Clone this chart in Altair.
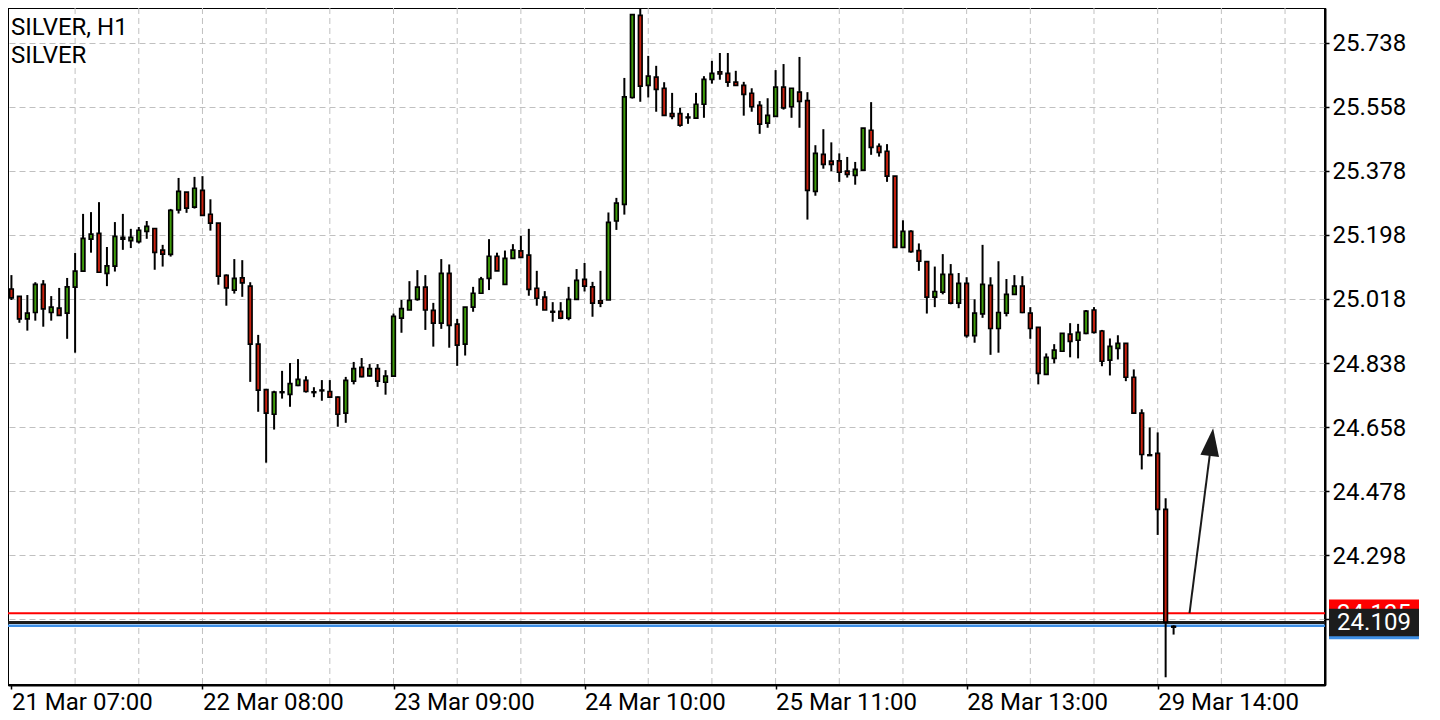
import altair as alt
import pandas as pd

# ---------------- data ----------------
candle_idx = list(range(147))
high = [25.085, 25.025, 25.029, 25.065, 25.071, 25.026, 25.049, 25.077, 25.147, 25.257,
        25.262, 25.290, 25.164, 25.234, 25.257, 25.215, 25.220, 25.237, 25.216, 25.170,
        25.271, 25.358, 25.318, 25.361, 25.363, 25.298, 25.231, 25.087, 25.130, 25.127,
        25.065, 24.917, 24.763, 24.760, 24.816, 24.838, 24.849, 24.801, 24.770, 24.790,
        24.790, 24.744, 24.799, 24.841, 24.852, 24.835, 24.835, 24.818, 24.977, 25.015,
        25.068, 25.099, 25.085, 25.007, 25.130, 25.115, 24.962, 24.995, 25.052, 25.080,
        25.186, 25.148, 25.154, 25.172, 25.195, 25.215, 25.097, 25.040, 25.009, 25.009,
        25.052, 25.102, 25.119, 25.066, 25.097, 25.261, 25.302, 25.639, 25.817, 25.833,
        25.701, 25.673, 25.627, 25.597, 25.555, 25.540, 25.597, 25.644, 25.687, 25.709,
        25.709, 25.659, 25.628, 25.610, 25.574, 25.582, 25.661, 25.678, 25.610, 25.698,
        25.599, 25.450, 25.495, 25.458, 25.427, 25.417, 25.403, 25.498, 25.571, 25.455,
        25.453, 25.363, 25.239, 25.211, 25.174, 25.123, 25.109, 25.144, 25.116, 25.091,
        25.079, 25.017, 25.170, 25.079, 25.124, 25.074, 25.085, 25.082, 24.995, 24.938,
        24.865, 24.891, 24.921, 24.950, 24.948, 24.987, 24.995, 24.931, 24.907, 24.916,
        24.893, 24.820, 24.708, 24.657, 24.643, 24.458, 24.101]
open_ = [25.046, 25.025, 24.962, 24.980, 25.059, 24.980, 24.992, 24.978, 25.051, 25.096,
         25.186, 25.202, 25.090, 25.110, 25.186, 25.182, 25.179, 25.208, 25.216, 25.155,
         25.143, 25.268, 25.318, 25.276, 25.323, 25.256, 25.231, 25.084, 25.043, 25.077,
         25.054, 24.891, 24.763, 24.694, 24.757, 24.750, 24.775, 24.789, 24.757, 24.762,
         24.758, 24.742, 24.697, 24.787, 24.826, 24.802, 24.822, 24.784, 24.801, 24.964,
         24.987, 25.017, 25.051, 24.986, 24.950, 25.090, 24.947, 24.891, 24.995, 25.034,
         25.076, 25.138, 25.059, 25.132, 25.153, 25.141, 25.048, 25.023, 24.983, 24.983,
         24.964, 25.017, 25.073, 25.052, 25.013, 25.015, 25.237, 25.284, 25.584, 25.815,
         25.618, 25.641, 25.610, 25.539, 25.539, 25.529, 25.526, 25.565, 25.635, 25.656,
         25.652, 25.627, 25.618, 25.596, 25.562, 25.512, 25.531, 25.613, 25.558, 25.599,
         25.575, 25.320, 25.424, 25.405, 25.406, 25.377, 25.365, 25.380, 25.492, 25.447,
         25.433, 25.363, 25.163, 25.208, 25.154, 25.123, 25.023, 25.037, 25.087, 25.006,
         25.062, 24.915, 24.976, 25.056, 24.935, 24.978, 25.031, 25.054, 24.978, 24.938,
         24.806, 24.851, 24.871, 24.919, 24.902, 24.921, 24.987, 24.928, 24.846, 24.879,
         24.893, 24.798, 24.697, 24.580, 24.584, 24.427, 24.098]
close = [25.021, 24.962, 24.978, 25.059, 24.990, 24.995, 24.972, 25.052, 25.096, 25.188,
         25.200, 25.093, 25.111, 25.194, 25.191, 25.191, 25.211, 25.222, 25.149, 25.144,
         25.267, 25.320, 25.273, 25.329, 25.253, 25.231, 25.082, 25.049, 25.076, 25.063,
         24.891, 24.762, 24.697, 24.756, 24.755, 24.780, 24.792, 24.758, 24.755, 24.760,
         24.742, 24.694, 24.789, 24.822, 24.800, 24.822, 24.787, 24.801, 24.969, 24.991,
         25.014, 25.051, 24.987, 24.950, 25.090, 24.944, 24.888, 24.995, 25.034, 25.074,
         25.138, 25.097, 25.132, 25.155, 25.135, 25.045, 25.020, 24.987, 24.981, 24.964,
         25.017, 25.070, 25.054, 25.006, 25.006, 25.233, 25.287, 25.586, 25.817, 25.616,
         25.644, 25.607, 25.534, 25.531, 25.506, 25.527, 25.565, 25.635, 25.652, 25.650,
         25.627, 25.618, 25.593, 25.558, 25.509, 25.534, 25.613, 25.555, 25.610, 25.573,
         25.323, 25.427, 25.396, 25.396, 25.374, 25.368, 25.382, 25.498, 25.444, 25.430,
         25.363, 25.163, 25.208, 25.151, 25.124, 25.023, 25.039, 25.087, 25.006, 25.062,
         24.915, 24.978, 25.059, 24.935, 24.980, 25.031, 25.054, 24.980, 24.935, 24.809,
         24.854, 24.874, 24.921, 24.899, 24.924, 24.984, 24.924, 24.843, 24.885, 24.893,
         24.798, 24.697, 24.581, 24.578, 24.427, 24.110, 24.096]
low = [25.015, 24.951, 24.929, 24.957, 24.940, 24.957, 24.972, 24.906, 24.867, 25.096,
       25.148, 25.093, 25.054, 25.095, 25.156, 25.161, 25.174, 25.187, 25.100, 25.109,
       25.137, 25.258, 25.260, 25.272, 25.253, 25.210, 25.058, 24.999, 25.033, 25.024,
       24.785, 24.701, 24.558, 24.651, 24.738, 24.715, 24.773, 24.755, 24.742, 24.732,
       24.742, 24.659, 24.670, 24.778, 24.798, 24.800, 24.771, 24.749, 24.801, 24.923,
       24.987, 25.013, 24.931, 24.884, 24.934, 24.881, 24.830, 24.859, 24.982, 25.034,
       25.043, 25.097, 25.059, 25.132, 25.135, 25.027, 24.999, 24.987, 24.954, 24.961,
       24.958, 25.017, 25.039, 24.968, 24.995, 25.015, 25.212, 25.255, 25.581, 25.572,
       25.584, 25.544, 25.534, 25.523, 25.502, 25.510, 25.526, 25.527, 25.623, 25.634,
       25.614, 25.618, 25.533, 25.544, 25.482, 25.499, 25.531, 25.550, 25.527, 25.499,
       25.241, 25.308, 25.384, 25.377, 25.347, 25.359, 25.339, 25.380, 25.423, 25.418,
       25.347, 25.163, 25.163, 25.148, 25.097, 24.977, 24.995, 25.031, 25.003, 24.992,
       24.909, 24.895, 24.965, 24.861, 24.867, 24.969, 25.031, 24.978, 24.906, 24.778,
       24.806, 24.837, 24.871, 24.854, 24.851, 24.919, 24.921, 24.829, 24.803, 24.848,
       24.787, 24.697, 24.539, 24.578, 24.355, 23.955, 24.075]

x_tick_idx = [0, 24, 48, 72, 96, 120, 144]
x_tick_labels = ["21 Mar 07:00", "22 Mar 08:00", "23 Mar 09:00", "24 Mar 10:00",
                 "25 Mar 11:00", "28 Mar 13:00", "29 Mar 14:00"]
grid_idx = list(range(8, 161, 8))
y_ticks = [25.738, 25.558, 25.378, 25.198, 25.018, 24.838, 24.658, 24.478, 24.298, 24.118]

line_prices = [24.135, 24.100, 24.109]
line_labels = ["24.135", "", "24.109"]
line_colors = ["#ff0000", "#3d8fe6", "#1c1c1c"]
line_widths = [2, 2.5, 3]

arrow_idx = [148.0, 150.75]
arrow_price = [24.135, 24.616]
arrow_head_idx = [150.75]
arrow_head_price = [24.616]

title_lines = ["SILVER, H1", "SILVER"]

UP = "#3e9b09"
DOWN = "#c8200e"
GRID = "#c0c0c0"
FONT = "Roboto"

# ---------------- frames ----------------
df = pd.DataFrame({"i": candle_idx, "open": open_, "high": high, "low": low, "close": close})
df["dir"] = ["up" if c >= o else "down" for o, c in zip(open_, close)]
grid_df = pd.DataFrame({"i": grid_idx})
lines_df = pd.DataFrame({"price": line_prices, "label": line_labels,
                         "color": line_colors, "w": line_widths})
back_tags = lines_df.iloc[:2]
front_tags = lines_df.iloc[2:]
arrow_df = pd.DataFrame({"i": arrow_idx, "price": arrow_price})
head_df = pd.DataFrame({"i": arrow_head_idx, "price": arrow_head_price})

x_scale = alt.Scale(domain=[-0.43, 165.02], nice=False, zero=False, padding=0)
y_scale = alt.Scale(domain=[23.9333, 25.8355], nice=False, zero=False, padding=0)

label_js = "[" + ",".join("'%s'" % s for s in x_tick_labels) + "]"

x_axis = alt.Axis(values=x_tick_idx, labelExpr=label_js + "[round(datum.value/24)]",
                  title=None, grid=False, labelAlign="left", labelBaseline="top",
                  labelPadding=1, tickSize=4, tickWidth=1.5, domainWidth=2,
                  labelFlush=False, labelOverlap=False, labelBound=False)
y_axis = alt.Axis(values=y_ticks, format=".3f", orient="right", title=None,
                  grid=True, gridColor=GRID, gridDash=[6, 4], gridWidth=1,
                  tickSize=4, tickWidth=1.5, labelPadding=3, domainWidth=2,
                  labelOverlap=False, labelOffset=1)


def X(field):
    return alt.X(field, scale=x_scale, axis=x_axis)


def Y(field):
    return alt.Y(field, scale=y_scale, axis=y_axis)


vgrid = alt.Chart(grid_df).mark_rule(color=GRID, strokeDash=[6, 4], strokeWidth=1).encode(
    x=X("i:Q"))

plines = alt.Chart(lines_df).mark_rule().encode(
    y=Y("price:Q"),
    color=alt.Color("color:N", scale=None),
    strokeWidth=alt.StrokeWidth("w:Q", scale=None))

wicks = alt.Chart(df).mark_rule(color="black", strokeWidth=2).encode(
    x=X("i:Q"), y=Y("low:Q"), y2="high:Q")

bodies = alt.Chart(df).mark_bar(size=3.6, stroke="black", strokeWidth=1.7).encode(
    x=X("i:Q"), y=Y("open:Q"), y2="close:Q",
    color=alt.Color("dir:N", scale=alt.Scale(domain=["up", "down"], range=[UP, DOWN]),
                    legend=None))

arrow_line = alt.Chart(arrow_df).mark_line(color="#1a1a1a", strokeWidth=2).encode(
    x=X("i:Q"), y=Y("price:Q"))

arrow_head = alt.Chart(head_df).mark_point(
    shape="M0,-1L0.67,1L-0.67,1Z", size=784, angle=7, filled=True,
    color="#1a1a1a", opacity=1, strokeWidth=0).encode(
    x=X("i:Q"), y=Y("price:Q"))


def tag_layers(data):
    box = alt.Chart(data).mark_point(
        shape="M-1,-0.3044L1,-0.3044L1,0.3044L-1,0.3044Z", size=8100, filled=True,
        opacity=1, strokeWidth=0, clip=False).encode(
        x=alt.value(1366), y=Y("price:Q"), color=alt.Color("color:N", scale=None))
    txt = alt.Chart(data).mark_text(
        color="white", font=FONT, fontSize=24, align="center", baseline="middle",
        dy=1, clip=False).encode(
        x=alt.value(1366), y=Y("price:Q"), text="label:N")
    return [box, txt]


t1 = alt.Chart(pd.DataFrame({"t": [title_lines[0]]})).mark_text(
    font=FONT, fontSize=24, align="left", baseline="alphabetic", color="black").encode(
    x=alt.value(3), y=alt.value(27), text="t:N")
t2 = alt.Chart(pd.DataFrame({"t": [title_lines[1]]})).mark_text(
    font=FONT, fontSize=24, align="left", baseline="alphabetic", color="black").encode(
    x=alt.value(3), y=alt.value(55), text="t:N")

layers = [vgrid, plines, wicks, bodies, arrow_line, arrow_head] \
    + tag_layers(back_tags) + tag_layers(front_tags) + [t1, t2]

chart = alt.layer(*layers).properties(
    width=1317, height=677,
    padding={"left": 0, "top": 0, "right": 100, "bottom": 32},
    autosize=alt.AutoSizeParams(type="none"),
    background="white",
).configure_axis(
    labelFont=FONT, labelFontSize=24, labelColor="black",
    domainColor="black", tickColor="black",
).configure_view(stroke="black", strokeWidth=2)

chart.save("out.html", embed_options={"renderer": "svg", "actions": False})
